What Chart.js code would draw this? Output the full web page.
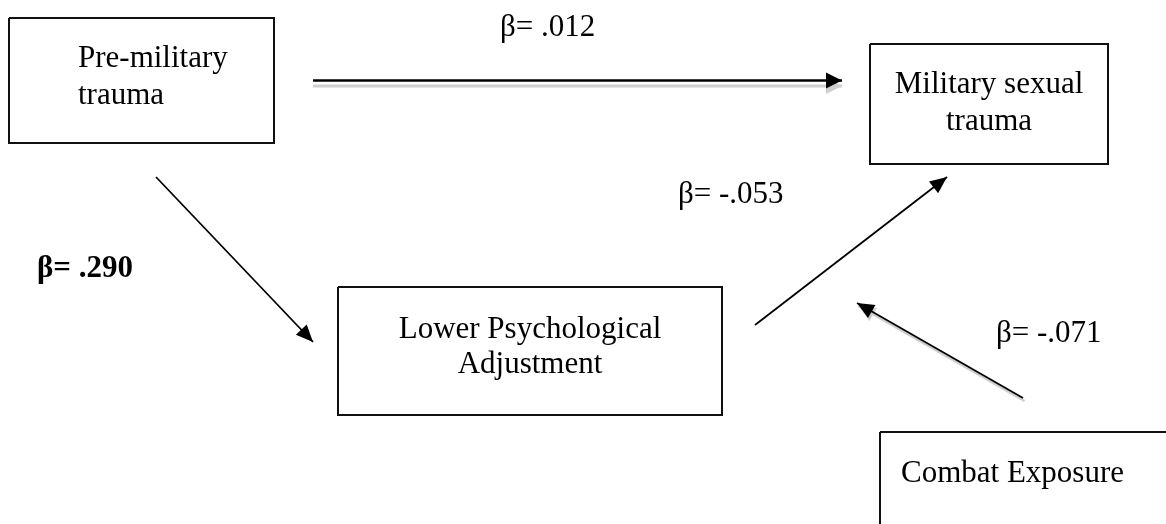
<!DOCTYPE html>
<html>
<head>
<meta charset="utf-8">
<script src="https://cdn.jsdelivr.net/npm/chart.js@4.4.0/dist/chart.umd.min.js"></script>
<style>
    html, body { margin: 0; padding: 0; background: #fff; }
    #wrap { width: 1166px; height: 524px; }
</style>
</head>
<body>
<div id="wrap"><canvas id="pathChart" width="1166" height="524"></canvas></div>
<script>
// 노드 (변수 상자)
const nodeLines = [['Pre-military', 'trauma'], ['Military sexual', 'trauma'], ['Lower Psychological', 'Adjustment'], ['Combat Exposure']];
const nodeLeft = [9, 870, 338, 880];
const nodeTop = [18, 44, 287, 432];
const nodeRight = [274, 1108, 722, 1185];
const nodeBottom = [143, 164, 415, 545];
const nodeTextX = [78, 989, 530, 901];
const nodeBaselines = [[67, 104], [93, 130], [338, 373], [482]];
const nodeAlign = ['left', 'center', 'center', 'left'];

// 경로 계수
const pathCoef = ['β= .012', 'β= .290', 'β= -.053', 'β= -.071'];
const pathBold = [false, true, false, false];
const coefX = [500, 37, 678, 996];
const coefY = [36, 277, 203, 342];
const pathStart = [[313, 80.5], [156, 177], [755, 325], [1023, 398]];
const pathEnd = [[842, 80.5], [313, 342], [947, 177], [857, 303]];

// 화살촉 그리기
function drawHead(ctx, x1, y1, x2, y2, len, half) {
    const a = Math.atan2(y2 - y1, x2 - x1);
    const bx = x2 - len * Math.cos(a), by = y2 - len * Math.sin(a);
    ctx.beginPath();
    ctx.moveTo(x2, y2);
    ctx.lineTo(bx + half * Math.sin(a), by - half * Math.cos(a));
    ctx.lineTo(bx - half * Math.sin(a), by + half * Math.cos(a));
    ctx.closePath();
    ctx.fill();
}

const diagramPlugin = {
    id: 'diagram',
    beforeDatasetsDraw(chart, args, opts) {
        const ctx = chart.ctx;
        const xs = chart.scales.x, ys = chart.scales.y;
        ctx.save();
        ctx.strokeStyle = opts.shadowColor;
        ctx.fillStyle = opts.shadowColor;
        pathStart.forEach((s, i) => {
            const off = opts.shadowOffsets[i];
            if (!off) return;
            const x1 = xs.getPixelForValue(s[0]) + off[0], y1 = ys.getPixelForValue(s[1]) + off[1];
            const x2 = xs.getPixelForValue(pathEnd[i][0]) + off[0], y2 = ys.getPixelForValue(pathEnd[i][1]) + off[1];
            ctx.lineWidth = opts.shadowWidth[i];
            ctx.beginPath();
            ctx.moveTo(x1, y1);
            ctx.lineTo(x2, y2);
            ctx.stroke();
            drawHead(ctx, x1, y1, x2, y2, opts.headLen[i], opts.headHalf[i]);
        });
        ctx.restore();
    },
    afterDatasetsDraw(chart, args, opts) {
        const ctx = chart.ctx;
        const xs = chart.scales.x, ys = chart.scales.y;
        ctx.save();
        ctx.fillStyle = '#000';
        // 화살촉
        pathStart.forEach((s, i) => {
            drawHead(ctx,
                xs.getPixelForValue(s[0]), ys.getPixelForValue(s[1]),
                xs.getPixelForValue(pathEnd[i][0]), ys.getPixelForValue(pathEnd[i][1]),
                opts.headLen[i], opts.headHalf[i]);
        });
        // 상자 안 글자
        ctx.textBaseline = 'alphabetic';
        ctx.font = opts.fontSize + 'px "Liberation Serif", "Times New Roman", serif';
        nodeLines.forEach((lines, i) => {
            ctx.textAlign = nodeAlign[i];
            lines.forEach((t, j) => {
                ctx.fillText(t, xs.getPixelForValue(nodeTextX[i]), ys.getPixelForValue(nodeBaselines[i][j]));
            });
        });
        // 계수
        ctx.textAlign = 'left';
        pathCoef.forEach((t, i) => {
            ctx.font = (pathBold[i] ? 'bold ' : '') + opts.fontSize + 'px "Liberation Serif", "Times New Roman", serif';
            ctx.fillText(t, xs.getPixelForValue(coefX[i]), ys.getPixelForValue(coefY[i]));
        });
        ctx.restore();
    }
};

const datasets = [];
nodeLines.forEach((lines, i) => {
    datasets.push({
        label: lines.join(' '),
        data: [
            { x: nodeLeft[i], y: nodeTop[i] },
            { x: nodeRight[i], y: nodeTop[i] },
            { x: nodeRight[i], y: nodeBottom[i] },
            { x: nodeLeft[i], y: nodeBottom[i] },
            { x: nodeLeft[i], y: nodeTop[i] }
        ],
        showLine: true,
        borderColor: '#111',
        borderWidth: 2,
        pointRadius: 0,
        fill: false
    });
});
const shaftWidth = [2.6, 1.8, 1.8, 1.8];
pathCoef.forEach((c, i) => {
    datasets.push({
        label: c,
        data: [
            { x: pathStart[i][0], y: pathStart[i][1] },
            { x: pathEnd[i][0], y: pathEnd[i][1] }
        ],
        showLine: true,
        borderColor: '#000',
        borderWidth: shaftWidth[i],
        pointRadius: 0,
        fill: false
    });
});

const ctx = document.getElementById('pathChart').getContext('2d');
new Chart(ctx, {
    type: 'scatter',
    data: { datasets: datasets },
    options: {
        responsive: false,
        devicePixelRatio: 1,
        animation: false,
        events: [],
        layout: { padding: 0 },
        scales: {
            x: { type: 'linear', min: 0, max: 1166, display: false },
            y: { type: 'linear', min: 0, max: 524, reverse: true, display: false }
        },
        plugins: {
            legend: { display: false },
            tooltip: { enabled: false },
            diagram: {
                fontSize: 31,
                headLen: [16, 17, 17, 17],
                headHalf: [8, 7.5, 7.5, 7.5],
                shadowColor: '#cfcfcf',
                shadowOffsets: [[0, 5.5], null, null, [1.5, 3]],
                shadowWidth: [3, 0, 0, 2.5]
            }
        }
    },
    plugins: [diagramPlugin]
});
</script>
</body>
</html>
